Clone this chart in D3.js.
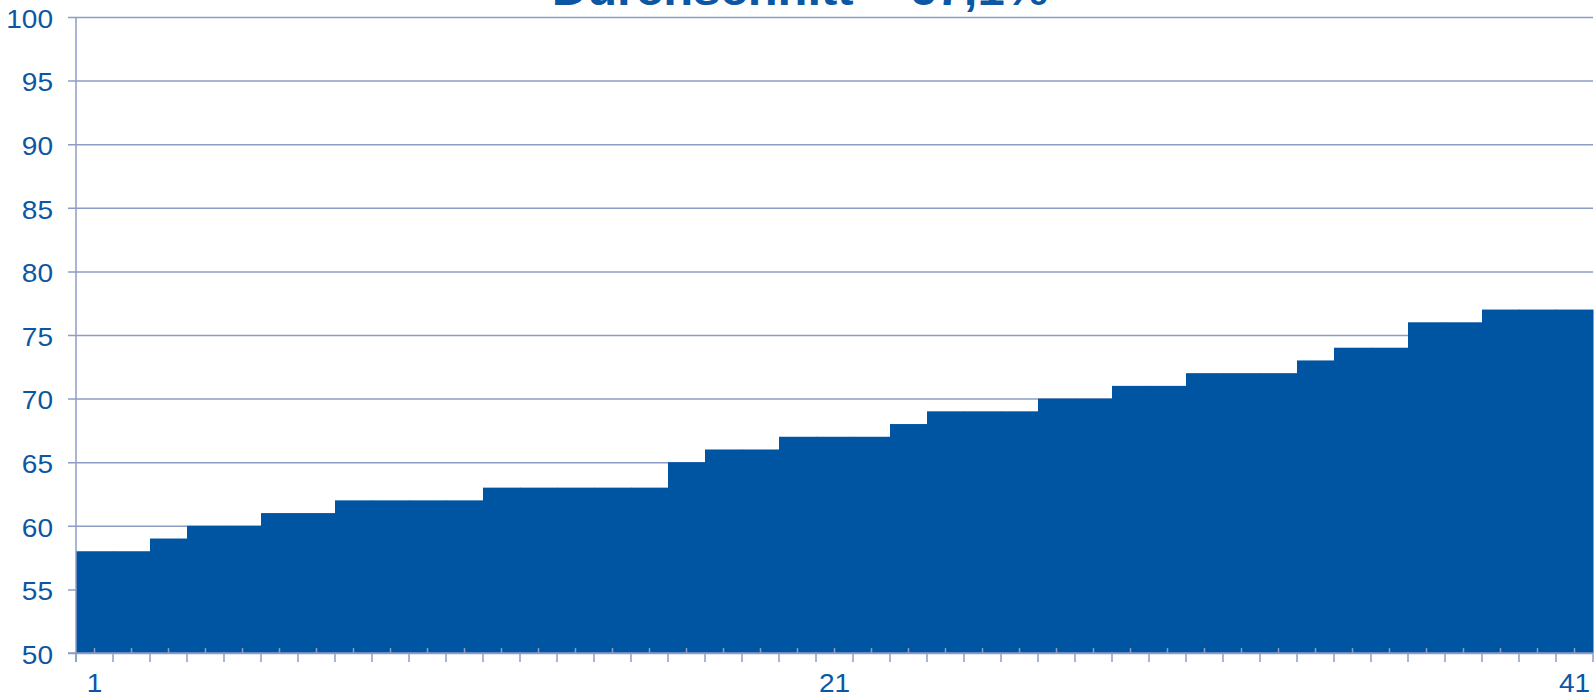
<!DOCTYPE html>
<html><head><meta charset="utf-8">
<script src="https://cdn.jsdelivr.net/npm/d3@7"></script>
<style>
html,body{margin:0;padding:0;background:#fff;overflow:hidden;}
text{font-family:"Liberation Sans",Arial,sans-serif;}
</style></head>
<body>
<svg id="chart" width="1595" height="698"></svg>
<script>
const title = "Durchschnitt = 67,1%";
const categories = d3.range(1, 42).map(String);
const values = [58,58,59,60,60,61,61,62,62,62,62,63,63,63,63,63,65,66,66,67,67,67,68,69,69,69,70,70,71,71,72,72,72,73,74,74,76,76,77,77,77];
const yTicks = [50,55,60,65,70,75,80,85,90,95,100];
const xLabels = ["1","21","41"];

const barColor = "#0055A2";
const gridColor = "#8C9CC3";
const textColor = "#0B57A4";

(function () {
const svg = d3.select("#chart");
const pL = 76, pR = 1593, pT = 17, pB = 653;
const sx = 1.1;   // text is slightly stretched horizontally in the reference
const fs = "25.5px";

const x = d3.scaleBand().domain(categories).range([pL, pR]).padding(0);
const y = d3.scaleLinear().domain([50, 100]).range([pB, pT]);

// gridlines with left ticks
const yAxis = d3.axisLeft(y).tickValues(yTicks).tickSize(-(pR - pL)).tickSizeOuter(0).tickPadding(23);
const gy = svg.append("g").attr("transform", `translate(${pL},0)`).call(yAxis);
gy.select(".domain").remove();
gy.selectAll(".tick line").attr("x1", -8).attr("stroke", gridColor).attr("stroke-width", 1.5);
gy.selectAll(".tick text")
  .attr("fill", textColor)
  .attr("font-family", "Liberation Sans, Arial, sans-serif")
  .style("font-size", fs)
  .attr("x", -23 / sx)
  .attr("dy", "0.4em")
  .attr("transform", `scale(${sx},1)`);

// bars
svg.append("g").selectAll("rect").data(values).join("rect")
  .attr("x", (d, i) => x(categories[i]))
  .attr("width", x.bandwidth() + 0.5)
  .attr("y", d => y(d))
  .attr("height", d => y(50) - y(d))
  .attr("fill", barColor);

// x axis: major ticks (outside) at band edges
const edges = d3.range(0, categories.length + 1).map(i => pL + i * x.bandwidth());
const gx = svg.append("g");
gx.append("line").attr("x1", pL - 8).attr("x2", pR).attr("y1", pB).attr("y2", pB)
  .attr("stroke", gridColor).attr("stroke-width", 1.5);
gx.selectAll("line.major").data(edges).join("line").attr("class", "major")
  .attr("x1", d => d).attr("x2", d => d).attr("y1", pB).attr("y2", pB + 9)
  .attr("stroke", gridColor).attr("stroke-width", 1.5);
// minor ticks (inside) at band centres
gx.selectAll("line.minor").data(categories).join("line").attr("class", "minor")
  .attr("x1", d => x(d) + x.bandwidth() / 2).attr("x2", d => x(d) + x.bandwidth() / 2)
  .attr("y1", pB).attr("y2", pB - 5)
  .attr("stroke", gridColor).attr("stroke-width", 1.5);
// y axis line
svg.append("line").attr("x1", pL).attr("x2", pL).attr("y1", pT).attr("y2", pB + 9)
  .attr("stroke", gridColor).attr("stroke-width", 1.5);

gx.selectAll("text").data(xLabels).join("text")
  .attr("x", d => (x(d) + x.bandwidth() / 2) / sx)
  .attr("y", 692)
  .attr("transform", `scale(${sx},1)`)
  .attr("text-anchor", "middle")
  .attr("fill", textColor)
  .style("font-size", fs)
  .text(d => d);

// title (partially cut at top, as in the reference)
svg.append("text")
  .attr("x", 800 / sx).attr("y", 4.5)
  .attr("transform", `scale(${sx},1)`)
  .attr("text-anchor", "middle")
  .attr("fill", textColor)
  .style("font-size", "44.5px").style("font-weight", "bold")
  .text(title);
})();
</script>
</body></html>
